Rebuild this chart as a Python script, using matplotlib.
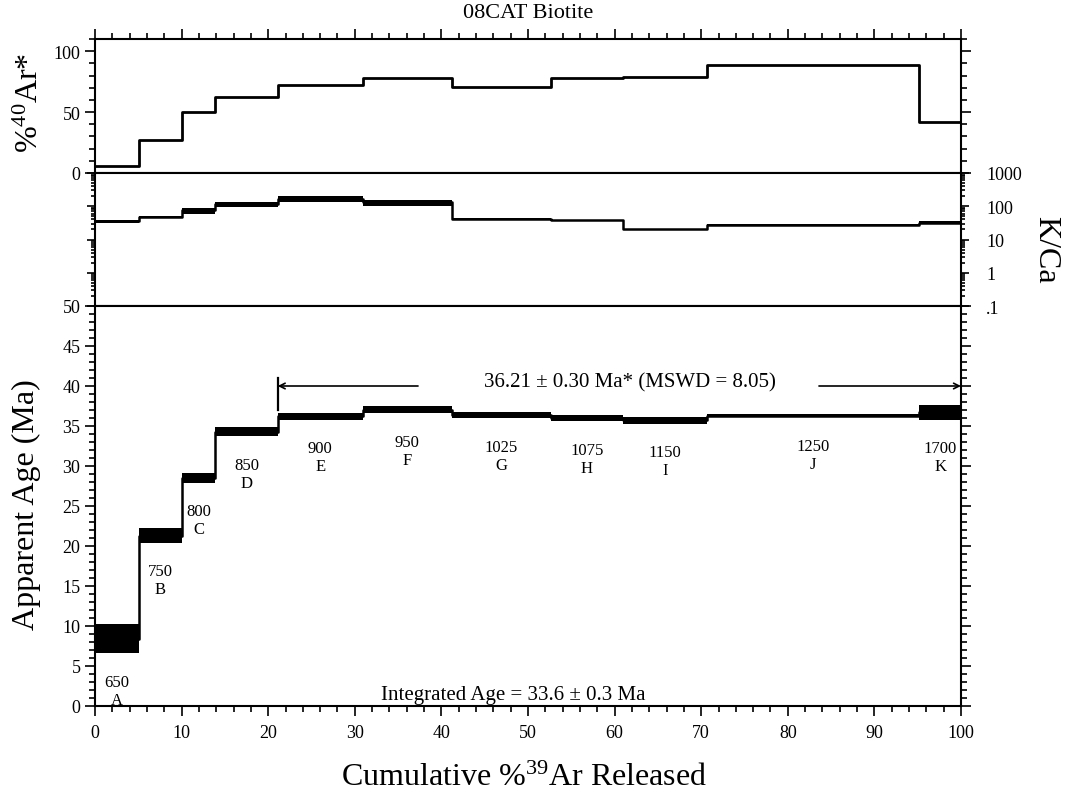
import matplotlib
matplotlib.use("Agg")
import matplotlib.pyplot as plt
from matplotlib.ticker import MultipleLocator, LogLocator, FixedFormatter, FixedLocator, NullFormatter
import numpy as np

plt.rcParams['font.family'] = ['Liberation Serif', 'DejaVu Serif']
plt.rcParams['mathtext.fontset'] = 'custom'
plt.rcParams['mathtext.rm'] = 'Liberation Serif'
plt.rcParams['mathtext.it'] = 'Liberation Serif:italic'

# step data
steps = ['A', 'B', 'C', 'D', 'E', 'F', 'G', 'H', 'I', 'J', 'K']
temps = [650, 750, 800, 850, 900, 950, 1025, 1075, 1150, 1250, 1700]
cum39 = [0, 5.1, 10.0, 13.9, 21.1, 30.9, 41.2, 52.6, 61.0, 70.7, 95.2, 100]
rad40 = [6, 27, 50, 62.5, 72, 77.7, 70.2, 77.7, 78.8, 89, 42]
kca = [35.7, 49, 75, 113, 170, 132, 42, 38, 20, 28, 32]
kca_err = [4, 2, 15, 20, 40, 27, 1.5, 1.5, 1, 1, 3.5]
age = [8.4, 21.3, 28.5, 34.3, 36.2, 37.05, 36.35, 36.0, 35.7, 36.3, 36.7]
age_err = [1.8, 0.9, 0.6, 0.6, 0.4, 0.45, 0.4, 0.4, 0.4, 0.2, 0.9]

plateau_first, plateau_last = 4, 10   # steps E..K
plateau_text = '36.21 \u00b1 0.30 Ma* (MSWD = 8.05)'
integrated_text = 'Integrated Age = 33.6 \u00b1 0.3 Ma'

edges = np.array(cum39)
left = edges[:-1]
widths = np.diff(edges)
mids = left + widths / 2

W_PX, H_PX = 1070, 804
fig = plt.figure(figsize=(W_PX / 100, H_PX / 100), dpi=100)

def rect(top, bot, x0=95, x1=961):
    return [x0 / W_PX, 1 - bot / H_PX, (x1 - x0) / W_PX, (bot - top) / H_PX]

ax1 = fig.add_axes(rect(40, 174))
ax2 = fig.add_axes(rect(174, 307))
ax3 = fig.add_axes(rect(307, 707))

for ax in (ax1, ax2, ax3):
    ax.set_xlim(0, 100)
    ax.xaxis.set_major_locator(MultipleLocator(10))
    ax.xaxis.set_minor_locator(MultipleLocator(2))
    for s in ax.spines.values():
        s.set_linewidth(1.5)
    ax.tick_params(which='both', direction='out', width=1.2, labelsize=13,
                   left=True, right=True, bottom=True, top=False,
                   labelbottom=False, labelleft=True, labelright=False)
    ax.tick_params(which='major', length=7)
    ax.tick_params(which='minor', length=4)

# top panel: %40Ar*
ax1.step(edges, rad40 + [rad40[-1]], where='post', color='black', lw=2)
ax1.set_ylim(0, 110)
ax1.yaxis.set_major_locator(FixedLocator([0, 50, 100]))
ax1.yaxis.set_minor_locator(MultipleLocator(10))
ax1.tick_params(which='both', top=True)

# middle panel: K/Ca
kca_a = np.array(kca)
kerr = np.array(kca_err)
ax2.set_yscale('log')
ax2.bar(left, 2 * kerr, bottom=kca_a - kerr, width=widths, align='edge', color='black', lw=0)
ax2.step(edges, list(kca) + [kca[-1]], where='post', color='black', lw=1.8)
ax2.set_ylim(0.1, 1000)
ax2.yaxis.set_major_locator(FixedLocator([0.1, 1, 10, 100, 1000]))
ax2.yaxis.set_major_formatter(FixedFormatter(['.1', '1', '10', '100', '1000']))
ax2.yaxis.set_minor_locator(LogLocator(base=10, subs=np.arange(2, 10), numticks=20))
ax2.yaxis.set_minor_formatter(NullFormatter())
ax2.tick_params(which='both', labelleft=False, labelright=True)
ax2.tick_params(which='major', length=6, pad=12)
ax2.tick_params(which='minor', length=3)

# bottom panel: apparent age
age_a = np.array(age)
aerr = np.array(age_err)
ax3.bar(left, 2 * aerr, bottom=age_a - aerr, width=widths, align='edge', color='black', lw=0)
ax3.step(edges, list(age) + [age[-1]], where='post', color='black', lw=1.8)
ax3.set_ylim(0, 50)
ax3.yaxis.set_major_locator(MultipleLocator(5))
ax3.yaxis.set_minor_locator(MultipleLocator(1))
ax3.tick_params(which='both', labelbottom=True)
ax3.tick_params(axis='x', pad=6)

for x, y, t, s in zip(mids, age_a - aerr - 4.7, temps, steps):
    ax3.text(x, y, f'{t}\n{s}', ha='center', va='center', fontsize=12, linespacing=1.15)

# plateau arrows
p0 = cum39[plateau_first]
p1 = cum39[plateau_last + 1]
ax3.plot([p0, p0], [37, 41], color='black', lw=1.6)
ax3.annotate('', xy=(p0, 40), xytext=(37.3, 40),
             arrowprops=dict(arrowstyle='->', lw=1.2, color='black', shrinkA=0, shrinkB=0))
ax3.annotate('', xy=(p1, 40), xytext=(83.6, 40),
             arrowprops=dict(arrowstyle='->', lw=1.2, color='black', shrinkA=0, shrinkB=0))
ax3.text(61.8, 40.5, plateau_text, ha='center', va='center', fontsize=15)
ax3.text(48.3, 0.25, integrated_text, ha='center', va='bottom', fontsize=15)

# labels
fig.text(528 / W_PX, 1 - 14 / H_PX, '08CAT Biotite', ha='center', va='center', fontsize=16)
fig.text(30 / W_PX, 1 - 103 / H_PX, r'%$^{40}$Ar*', rotation=90, ha='center', va='center', fontsize=23)
fig.text(26 / W_PX, 1 - 505 / H_PX, 'Apparent Age (Ma)', rotation=90, ha='center', va='center', fontsize=23)
fig.text(1046 / W_PX, 1 - 250 / H_PX, 'K/Ca', rotation=270, ha='center', va='center', fontsize=23)
fig.text(524 / W_PX, 1 - 778 / H_PX, r'Cumulative %$^{39}$Ar Released', ha='center', va='center', fontsize=23)

fig.savefig('out.png', dpi=100)
